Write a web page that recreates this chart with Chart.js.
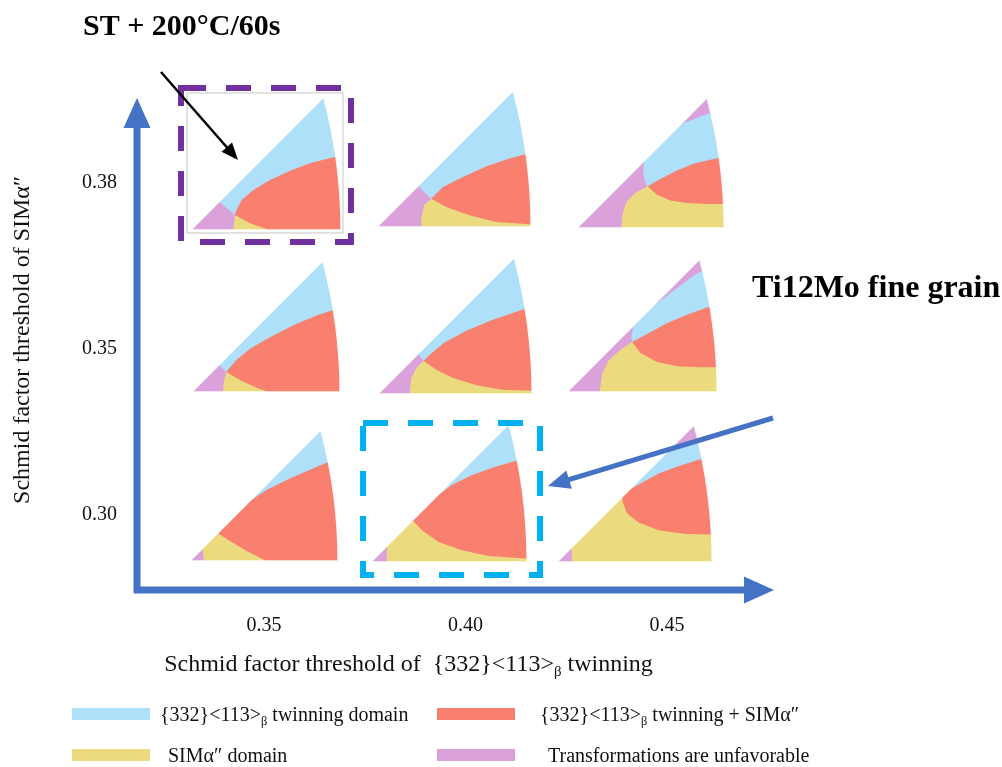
<!DOCTYPE html>
<html>
<head>
<meta charset="utf-8">
<script src="https://cdn.jsdelivr.net/npm/chart.js"></script>
<style>
  html, body { margin: 0; padding: 0; background: #fff; }
  #wrap { width: 1002px; height: 767px; }
</style>
</head>
<body>
<div id="wrap"><canvas id="ipfChart" width="1002" height="767"></canvas></div>
<script>
// axis categories
const twinThresholds = [0.35, 0.40, 0.45];          // x ticks
const simThresholds = ['0.30', '0.35', '0.38'];     // y ticks, bottom -> top

// the nine inverse pole figures, read row by row from the top
const cellTwin = [0.35, 0.40, 0.45, 0.35, 0.40, 0.45, 0.35, 0.40, 0.45];
const cellSim  = [2, 2, 2, 1, 1, 1, 0, 0, 0];

// region outlines inside each [001]-[101]-[111] triangle,
// u along 001->101 (=1), v upwards; clipped to the triangle when drawn
const unfavorableDomain = [
  [[[-0.3,-0.3],[0.08,0.28],[0.293,0.10],[0.35,0],[0.35,-0.3]]],
  [[[-0.3,-0.3],[0.2,0.33],[0.352,0.184],[0.40,0],[0.40,-0.3]]],
  [[[0.40,-0.3],[0.40,0.10],[0.479,0.283],[0.470,0.294],[0.448,0.373],[0.457,0.464],[0.509,0.566],[0.611,0.649],[0.724,0.713],[0.837,0.758],[0.939,0.792],[1.3,0.85],[1.3,1.3],[-0.3,1.3],[-0.3,-0.3]]],
  [[[-0.3,-0.3],[0.10,0.26],[0.232,0.135],[0.28,0],[0.28,-0.3]]],
  [[[-0.3,-0.3],[0.18,0.36],[0.296,0.216],[0.33,0],[0.33,-0.3]]],
  [[[0.30,-0.3],[0.30,0.05],[0.433,0.333],[0.429,0.371],[0.44,0.437],[0.489,0.511],[0.6,0.593],[0.733,0.693],[0.844,0.777],[0.915,0.815],[1.3,0.9],[1.3,1.3],[-0.3,1.3],[-0.3,-0.3]]],
  [[[-0.3,-0.3],[-0.3,0.12],[0.15,0.12],[0.15,-0.3]]],
  [[[-0.3,-0.3],[-0.3,0.12],[0.18,0.12],[0.18,-0.3]]],
  [[[-0.3,-0.3],[-0.3,0.12],[0.18,0.12],[0.18,-0.3]], [[0.5,0.674],[0.918,0.779],[1.3,0.875],[1.3,1.3],[0.5,1.3]]]
];
const simDomain = [
  [[[0.282,-0.3],[0.282,0],[0.293,0.10],[0.40,0.12],[0.6,0.12],[0.6,-0.3]]],
  [[[0.288,-0.3],[0.288,0],[0.288,0.065],[0.305,0.141],[0.352,0.184],[0.45,0.2],[1.3,0.2],[1.3,-0.3]]],
  [[[0.301,-0.3],[0.301,0],[0.310,0.102],[0.339,0.181],[0.396,0.238],[0.479,0.283],[0.6,0.3],[1.3,0.3],[1.3,-0.3]]],
  [[[0.210,-0.3],[0.210,0],[0.214,0.068],[0.232,0.135],[0.30,0.15],[0.6,0.15],[0.6,-0.3]]],
  [[[0.205,-0.3],[0.205,0],[0.216,0.104],[0.249,0.168],[0.296,0.216],[0.40,0.24],[1.3,0.24],[1.3,-0.3]]],
  [[[0.217,-0.3],[0.217,0],[0.233,0.12],[0.277,0.209],[0.355,0.282],[0.433,0.333],[0.5,0.34],[1.3,0.34],[1.3,-0.3]]],
  [[[0.094,-0.3],[0.094,0],[0.085,0.097],[-0.1,0.1],[-0.1,0.3],[0.3,0.3],[0.5,0.1],[0.6,-0.3]]],
  [[[0.101,-0.3],[0.101,0],[0.101,0.103],[-0.1,0.2],[-0.1,0.35],[0.33,0.35],[0.6,0.1],[1.3,0.1],[1.3,-0.3]]],
  [[[0.097,-0.3],[0.097,0],[0.092,0.103],[-0.1,0.2],[-0.1,0.45],[0.40,0.45],[0.45,0.40],[1.3,0.3],[1.3,-0.3]]]
];
const twinSimDomain = [
  [[[0.293,0.10],[0.298,0.122],[0.338,0.200],[0.416,0.267],[0.527,0.333],[0.66,0.395],[0.793,0.444],[0.949,0.485],[1.3,0.52],[1.3,-0.3],[0.53,-0.3],[0.522,0],[0.393,0.044]]],
  [[[0.352,0.184],[0.363,0.194],[0.427,0.259],[0.557,0.324],[0.708,0.393],[0.859,0.445],[0.957,0.471],[1.3,0.5],[1.3,0.017],[0.989,0.017],[0.773,0.032],[0.600,0.076],[0.449,0.13]]],
  [[[0.479,0.283],[0.566,0.333],[0.679,0.391],[0.792,0.437],[0.905,0.464],[0.991,0.482],[1.3,0.5],[1.3,0.163],[1.0,0.163],[0.883,0.163],[0.747,0.170],[0.633,0.187],[0.543,0.226]]],
  [[[0.232,0.135],[0.259,0.169],[0.305,0.221],[0.395,0.294],[0.530,0.372],[0.688,0.452],[0.846,0.519],[0.955,0.553],[1.3,0.6],[1.3,-0.3],[0.525,-0.3],[0.519,0],[0.44,0.027],[0.327,0.079]]],
  [[[0.296,0.216],[0.335,0.255],[0.432,0.334],[0.573,0.410],[0.745,0.482],[0.951,0.551],[1.3,0.6],[1.3,0.021],[1.0,0.021],[0.810,0.028],[0.638,0.056],[0.486,0.104],[0.378,0.157]]],
  [[[0.433,0.333],[0.533,0.387],[0.667,0.46],[0.811,0.52],[0.937,0.564],[1.3,0.6],[1.3,0.164],[0.995,0.164],[0.889,0.164],[0.733,0.171],[0.6,0.2],[0.489,0.26]]],
  [[[0.517,0],[0.382,0.067],[0.27,0.135],[0.18,0.193],[0.1,0.25],[0.40,0.402],[0.517,0.479],[0.674,0.557],[0.831,0.625],[0.926,0.665],[1.3,0.7],[1.3,-0.3],[0.52,-0.3]]],
  [[[1.3,0.022],[0.994,0.022],[0.753,0.039],[0.583,0.075],[0.432,0.128],[0.326,0.204],[0.265,0.268],[0.2,0.3],[0.41,0.415],[0.518,0.493],[0.647,0.557],[0.796,0.61],[0.925,0.647],[1.3,0.7]]],
  [[[0.419,0.441],[0.526,0.499],[0.655,0.570],[0.785,0.619],[0.925,0.663],[1.3,0.7],[1.3,0.177],[0.994,0.177],[0.828,0.181],[0.655,0.205],[0.526,0.254],[0.452,0.312],[0.423,0.383]]]
];

const COLORS = { twin: '#AEE0FA', both: '#F97F6F', sim: '#ECDB7E', none: '#DBA1DB' };
const AXIS_BLUE = '#4472C4';
const SERIF = '"Liberation Serif", "Times New Roman", serif';

// placement of each triangle relative to its tick position (px)
const CELL_DX = [-73, -88.5, -90, -72, -87.5, -100, -74, -94.5, -110];
const CELL_DY = [47, 44, 45, 43, 45, 43, 46, 47, 47];
const CELL_W  = [150, 154, 147, 148, 154, 150, 148, 156, 155];

function fillPolys(ctx, polys, ox, oy, W, color) {
  ctx.fillStyle = color;
  polys.forEach(poly => {
    ctx.beginPath();
    poly.forEach(([u, v], k) => {
      const px = ox + u * W, py = oy - v * W;
      if (k === 0) ctx.moveTo(px, py); else ctx.lineTo(px, py);
    });
    ctx.closePath();
    ctx.fill();
  });
}

function trianglePath(ctx, ox, oy, W) {
  ctx.beginPath();
  ctx.moveTo(ox, oy);
  ctx.lineTo(ox + W, oy);
  // [101]-[111] great circle of the stereographic triangle
  ctx.arc(ox - 2.4142 * W, oy, 3.4142 * W, 0, -Math.PI / 12, true);
  ctx.closePath();
}

function drawCell(ctx, ox, oy, W, i) {
  ctx.save();
  trianglePath(ctx, ox, oy, W);
  ctx.clip();
  ctx.fillStyle = COLORS.twin;
  ctx.fillRect(ox - 5, oy - W - 5, W + 10, W + 10);
  fillPolys(ctx, unfavorableDomain[i], ox, oy, W, COLORS.none);
  fillPolys(ctx, simDomain[i], ox, oy, W, COLORS.sim);
  fillPolys(ctx, twinSimDomain[i], ox, oy, W, COLORS.both);
  ctx.restore();
  ctx.save();
  trianglePath(ctx, ox, oy, W);
  ctx.strokeStyle = 'rgba(255,255,255,0.9)';
  ctx.lineWidth = 1.2;
  ctx.stroke();
  ctx.restore();
}

function arrow(ctx, x1, y1, x2, y2, lw, headL, headW, color) {
  const a = Math.atan2(y2 - y1, x2 - x1);
  const bx = x2 - headL * Math.cos(a), by = y2 - headL * Math.sin(a);
  ctx.save();
  ctx.strokeStyle = color;
  ctx.fillStyle = color;
  ctx.lineWidth = lw;
  ctx.beginPath();
  ctx.moveTo(x1, y1);
  ctx.lineTo(bx + Math.cos(a), by + Math.sin(a));
  ctx.stroke();
  ctx.beginPath();
  ctx.moveTo(x2, y2);
  ctx.lineTo(bx + headW / 2 * Math.sin(a), by - headW / 2 * Math.cos(a));
  ctx.lineTo(bx - headW / 2 * Math.sin(a), by + headW / 2 * Math.cos(a));
  ctx.closePath();
  ctx.fill();
  ctx.restore();
}

// text with a subscript part: parts = [[text, isSub], ...]
function richText(ctx, parts, x, y, size, align) {
  const widths = parts.map(([t, sub]) => {
    ctx.font = (sub ? size * 0.62 : size) + 'px ' + SERIF;
    return ctx.measureText(t).width;
  });
  const total = widths.reduce((s, w) => s + w, 0);
  let cx = align === 'center' ? x - total / 2 : x;
  ctx.textAlign = 'left';
  ctx.textBaseline = 'alphabetic';
  parts.forEach(([t, sub], k) => {
    ctx.font = (sub ? size * 0.62 : size) + 'px ' + SERIF;
    ctx.fillText(t, cx, sub ? y + size * 0.22 : y);
    cx += widths[k];
  });
}

function dashedBox(ctx, x1, y1, x2, y2, color) {
  ctx.save();
  ctx.strokeStyle = color;
  ctx.lineWidth = 6;
  ctx.setLineDash([25, 20]);
  ctx.strokeRect(x1, y1, x2 - x1, y2 - y1);
  ctx.restore();
}

const ipfPlugin = {
  id: 'ipfCells',
  afterDatasetsDraw(chart) {
    const { ctx, scales: { x, y }, chartArea } = chart;
    ctx.save();
    // axes as block arrows
    arrow(ctx, chartArea.left, chartArea.bottom + 3, chartArea.left, chartArea.top + 8, 7, 30, 27, AXIS_BLUE);
    arrow(ctx, chartArea.left - 3, chartArea.bottom, chartArea.right - 6, chartArea.bottom, 7, 30, 27, AXIS_BLUE);

    const anchors = cellTwin.map((tv, i) => ({
      x: x.getPixelForValue(tv) + CELL_DX[i],
      y: y.getPixelForValue(cellSim[i]) + CELL_DY[i]
    }));

    // thin frame of the highlighted ST + 200°C/60s figure
    const a0 = anchors[0];
    ctx.strokeStyle = '#c8c8c8';
    ctx.lineWidth = 1;
    ctx.strokeRect(a0.x - 4, a0.y - 137, 156, 140);

    anchors.forEach((a, i) => drawCell(ctx, a.x, a.y, CELL_W[i], i));

    // highlight boxes
    dashedBox(ctx, a0.x - 10, a0.y - 142, a0.x + 160, a0.y + 12, '#7030A0');
    const a7 = anchors[7];
    dashedBox(ctx, a7.x - 8, a7.y - 139, a7.x + 169, a7.y + 13, '#00B0F0');

    // annotations
    ctx.fillStyle = '#000';
    ctx.textAlign = 'left';
    ctx.textBaseline = 'alphabetic';
    ctx.font = 'bold 30px ' + SERIF;
    ctx.fillText('ST + 200\u00B0C/60s', 83, 35);
    ctx.font = 'bold 32px ' + SERIF;
    ctx.fillText('Ti12Mo fine grain', 752, 297);
    arrow(ctx, 161, 72, 238, 160, 2.5, 17, 14, '#000');
    arrow(ctx, 773, 418, 548, 486, 5, 22, 19, AXIS_BLUE);

    // x-axis title
    ctx.fillStyle = '#111';
    richText(ctx, [['Schmid factor threshold of  {332}<113>', false], ['\u03B2', true], [' twinning', false]],
      (chartArea.left + 680) / 2, 671, 24, 'center');

    // legend
    const items = [
      { c: COLORS.twin, x: 72, y: 714, tx: 160, parts: [['{332}<113>', false], ['\u03B2', true], [' twinning domain', false]] },
      { c: COLORS.both, x: 437, y: 714, tx: 540, parts: [['{332}<113>', false], ['\u03B2', true], [' twinning + SIM\u03B1\u2033', false]] },
      { c: COLORS.sim, x: 72, y: 755, tx: 168, parts: [['SIM\u03B1\u2033 domain', false]] },
      { c: COLORS.none, x: 437, y: 755, tx: 548, parts: [['Transformations are unfavorable', false]] }
    ];
    items.forEach(it => {
      ctx.fillStyle = it.c;
      ctx.fillRect(it.x, it.y - 6, 78, 12);
      ctx.fillStyle = '#111';
      richText(ctx, it.parts, it.tx, it.y + 7, 20, 'left');
    });
    ctx.restore();
  }
};

new Chart(document.getElementById('ipfChart'), {
  type: 'scatter',
  data: {
    datasets: [{
      label: 'IPF maps',
      data: cellTwin.map((tv, i) => ({ x: tv, y: cellSim[i] })),
      pointRadius: 0,
      pointHoverRadius: 0
    }]
  },
  options: {
    responsive: false,
    devicePixelRatio: 1,
    animation: false,
    events: [],
    layout: { padding: { left: 0, top: 90, right: 222, bottom: 0 } },
    plugins: { legend: { display: false }, tooltip: { enabled: false } },
    scales: {
      x: {
        type: 'linear',
        min: 0.3185,
        max: 0.4780,
        afterBuildTicks: s => { s.ticks = twinThresholds.map(v => ({ value: v })); },
        afterFit: s => { s.height = 177; },
        grid: { display: false, drawTicks: false },
        border: { display: false },
        ticks: {
          padding: 24,
          color: '#111',
          font: { family: SERIF, size: 20 },
          callback: v => v.toFixed(2)
        }
      },
      y: {
        type: 'linear',
        min: -0.452,
        max: 2.56,
        afterBuildTicks: s => { s.ticks = simThresholds.map((_, k) => ({ value: k })); },
        afterFit: s => { s.width = 137; },
        grid: { display: false, drawTicks: false },
        border: { display: false },
        ticks: {
          padding: 20,
          color: '#111',
          font: { family: SERIF, size: 20 },
          callback: v => simThresholds[v]
        },
        title: {
          display: true,
          text: 'Schmid factor threshold of SIM\u03B1\u2033',
          color: '#111',
          font: { family: SERIF, size: 24 },
          padding: { top: 8, bottom: 0 }
        }
      }
    }
  },
  plugins: [ipfPlugin]
});
</script>
</body>
</html>
